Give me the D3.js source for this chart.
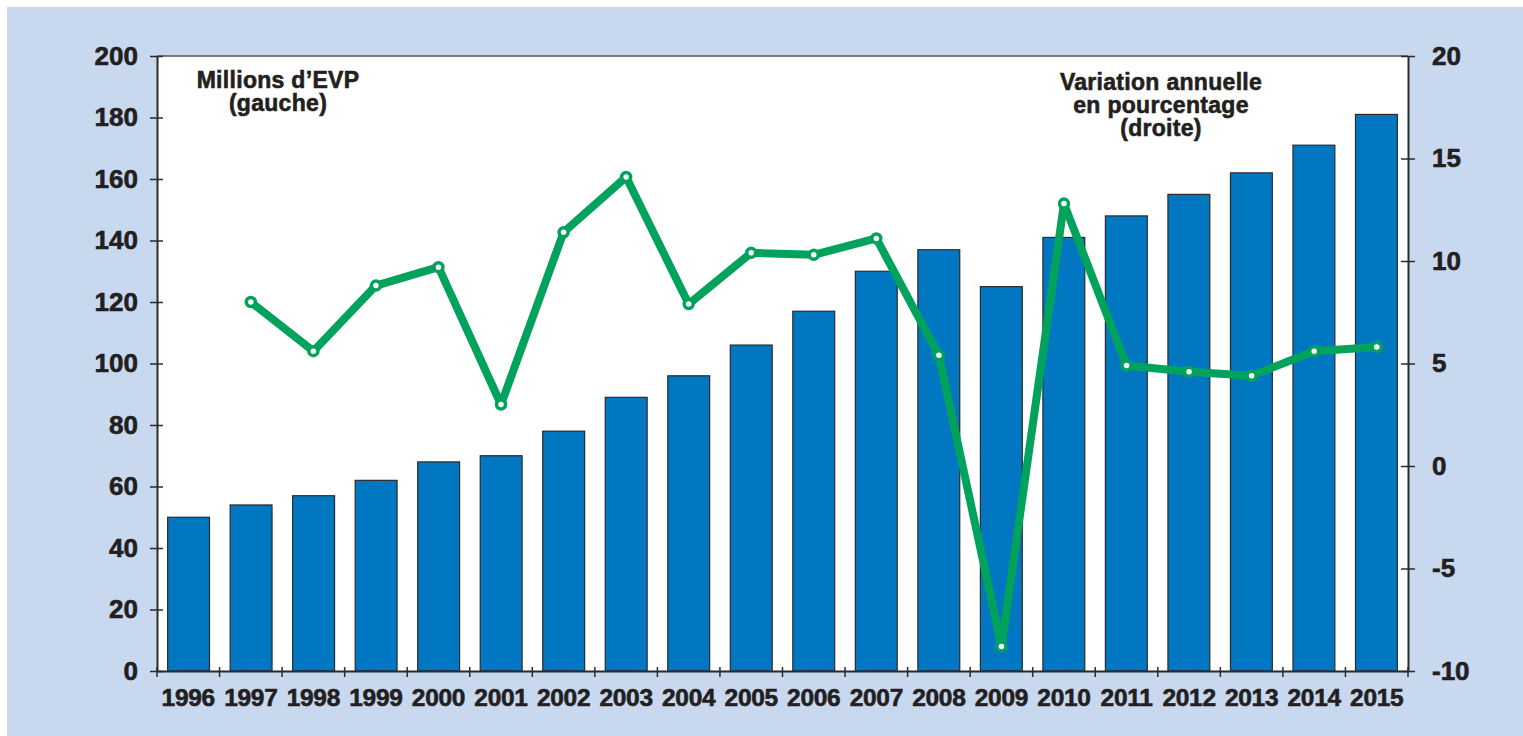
<!DOCTYPE html>
<html lang="fr">
<head>
    <meta charset="UTF-8">
    <title>Trafic conteneurs</title>
    <style>
        body { margin: 0; background: #fff; }
        text { font-family: "Liberation Sans", Arial, sans-serif; font-weight: bold; fill: #231f20;
               stroke: #231f20; stroke-width: 0.6px; }
        .tick-label { font-size: 26px; }
        .year { font-size: 24.5px; letter-spacing: -0.3px; }
        .note { font-size: 23px; letter-spacing: 0.3px; }
    </style>
    <script src="https://d3js.org/d3.v7.min.js"></script>
</head>
<body>
    <script>
        // data
        const years = ["1996", "1997", "1998", "1999", "2000", "2001", "2002", "2003", "2004", "2005",
                       "2006", "2007", "2008", "2009", "2010", "2011", "2012", "2013", "2014", "2015"];
        const teu = [50, 54, 57, 62, 68, 70, 78, 89, 96, 106, 117, 130, 137, 125, 141, 148, 155, 162, 171, 181];
        // annual change, % (no value for 1996)
        const change = [null, 8.0, 5.6, 8.8, 9.7, 3.0, 11.4, 14.1, 7.9, 10.4,
                        10.3, 11.1, 5.4, -8.8, 12.8, 4.9, 4.6, 4.4, 5.6, 5.8];
        const leftTicks = [0, 20, 40, 60, 80, 100, 120, 140, 160, 180, 200];
        const rightTicks = [-10, -5, 0, 5, 10, 15, 20];

        const W = 1523, H = 736;
        const plotL = 157, plotR = 1408, plotT = 56, plotB = 671;

        const svg = d3.select("body").append("svg")
            .attr("width", W).attr("height", H);

        svg.append("rect").attr("x", 7).attr("y", 7).attr("width", W - 7).attr("height", H - 7)
            .attr("fill", "#c8d8ef");
        svg.append("rect").attr("x", plotL).attr("y", plotT)
            .attr("width", plotR - plotL).attr("height", plotB - plotT)
            .attr("fill", "#fff");

        const x = d3.scaleBand().domain(years).range([plotL, plotR]).paddingInner(0.33).paddingOuter(0.17);
        const xb = d3.scaleBand().domain(years).range([plotL, plotR]);
        const yL = d3.scaleLinear().domain([0, 200]).range([plotB, plotT]);
        const yR = d3.scaleLinear().domain([-10, 20]).range([plotB, plotT]);

        // bars
        svg.append("g").selectAll("rect").data(teu).join("rect")
            .attr("x", (d, i) => x(years[i]))
            .attr("width", x.bandwidth())
            .attr("y", d => yL(d))
            .attr("height", d => yL(0) - yL(d))
            .attr("fill", "#0077c0")
            .attr("stroke", "#2b2b2b")
            .attr("stroke-width", 1.2);

        // line
        const pts = change.map((v, i) => ({ year: years[i], v })).filter(d => d.v !== null);
        const line = d3.line()
            .x(d => xb(d.year) + xb.bandwidth() / 2)
            .y(d => yR(d.v));
        svg.append("path").datum(pts)
            .attr("d", line)
            .attr("fill", "none")
            .attr("stroke", "#00a25c")
            .attr("stroke-width", 8)
            .attr("stroke-linejoin", "round");
        svg.append("g").selectAll("circle").data(pts).join("circle")
            .attr("cx", d => xb(d.year) + xb.bandwidth() / 2)
            .attr("cy", d => yR(d.v))
            .attr("r", 4.5)
            .attr("fill", "#fff")
            .attr("stroke", "#00a25c")
            .attr("stroke-width", 3.5);

        // frame
        svg.append("line").attr("x1", plotL).attr("x2", plotR).attr("y1", plotT).attr("y2", plotT)
            .attr("stroke", "#555").attr("stroke-width", 1.5);

        // axes
        const axL = svg.append("g").attr("transform", `translate(${plotL},0)`)
            .call(d3.axisLeft(yL).tickValues(leftTicks).tickSizeOuter(0).tickPadding(13));
        axL.selectAll(".tick line").attr("x2", -7).attr("x1", 6);
        axL.selectAll(".tick text").attr("class", "tick-label");

        const axR = svg.append("g").attr("transform", `translate(${plotR},0)`)
            .call(d3.axisRight(yR).tickValues(rightTicks).tickFormat(d => String(d))
                .tickSizeOuter(0).tickPadding(18));
        axR.selectAll(".tick line").attr("x1", -7).attr("x2", 7);
        axR.selectAll(".tick text").attr("class", "tick-label");

        const axB = svg.append("g").attr("transform", `translate(0,${plotB})`)
            .call(d3.axisBottom(xb).tickSizeOuter(0).tickSize(0).tickPadding(18));
        axB.selectAll(".tick text").attr("class", "year");
        // boundary ticks between years
        axB.selectAll("line.sep").data(d3.range(years.length + 1)).join("line")
            .attr("class", "sep")
            .attr("x1", i => plotL + i * xb.step())
            .attr("x2", i => plotL + i * xb.step())
            .attr("y1", -4).attr("y2", 6)
            .attr("stroke", "#2b2b2b").attr("stroke-width", 1.5);

        svg.selectAll(".domain").attr("stroke", "#2b2b2b").attr("stroke-width", 2);
        svg.selectAll(".tick line").attr("stroke", "#2b2b2b").attr("stroke-width", 1.5);

        // notes
        const noteL = svg.append("text").attr("class", "note").attr("text-anchor", "middle");
        noteL.append("tspan").attr("x", 278).attr("y", 88).text("Millions d\u2019EVP");
        noteL.append("tspan").attr("x", 278).attr("y", 111).text("(gauche)");

        const noteR = svg.append("text").attr("class", "note").attr("text-anchor", "middle");
        noteR.append("tspan").attr("x", 1161).attr("y", 90).text("Variation annuelle");
        noteR.append("tspan").attr("x", 1161).attr("y", 113).text("en pourcentage");
        noteR.append("tspan").attr("x", 1161).attr("y", 136).text("(droite)");
    </script>
</body>
</html>
